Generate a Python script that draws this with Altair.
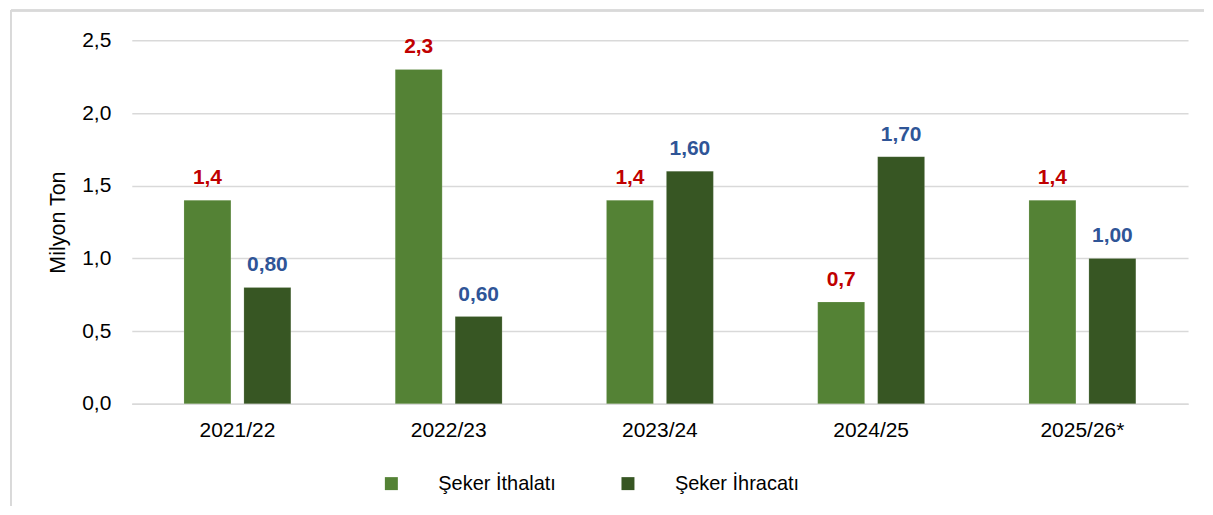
import altair as alt
import pandas as pd

years = ["2021/22", "2022/23", "2023/24", "2024/25", "2025/26*"]
series = ["Şeker İthalatı", "Şeker İhracatı"]
ithalat = [1.4, 2.3, 1.4, 0.7, 1.4]
ihracat = [0.80, 0.60, 1.60, 1.70, 1.00]
bar_colors = ["#548235", "#375623"]
label_colors = ["#C00000", "#2F5597"]

rows = []
for y, v in zip(years, ithalat):
    rows.append({"year": y, "series": series[0], "value": v,
                 "label": f"{v:.1f}".replace(".", ",")})
for y, v in zip(years, ihracat):
    rows.append({"year": y, "series": series[1], "value": v,
                 "label": f"{v:.2f}".replace(".", ",")})
df = pd.DataFrame(rows)

FN = "Liberation Sans Narrow, Arial Narrow, Liberation Sans, sans-serif"
FR = "Liberation Sans, Arial, sans-serif"

x_enc = alt.X("year:N", sort=years,
              scale=alt.Scale(paddingInner=0.494, paddingOuter=0.247),
              axis=alt.Axis(title=None, labelAngle=0, ticks=False, labelPadding=16,
                            labelFont=FN, labelFontSize=21, labelColor="#000000",
                            domainColor="#d9d9d9", domainWidth=1.5, grid=False))
xo_enc = alt.XOffset("series:N", sort=series,
                     scale=alt.Scale(domain=series, paddingInner=0.2167, paddingOuter=0))
y_enc = alt.Y("value:Q",
              scale=alt.Scale(domain=[0, 2.5], nice=False),
              axis=alt.Axis(title="Milyon Ton", values=[0, 0.5, 1.0, 1.5, 2.0, 2.5],
                            labelExpr="replace(format(datum.value, '.1f'), '.', ',')",
                            ticks=False, domain=False, labelPadding=21,
                            labelFont=FN, labelFontSize=21, labelColor="#000000",
                            titleFont=FR, titleFontSize=21.5, titleFontWeight="normal",
                            titleColor="#000000", titlePadding=12,
                            gridColor="#d9d9d9", gridWidth=1.5))

bars = alt.Chart(df).mark_bar(stroke="#ffffff", strokeWidth=0.5, strokeOpacity=0.3).encode(
    x=x_enc, xOffset=xo_enc, y=y_enc,
    color=alt.Color("series:N", sort=series,
                    scale=alt.Scale(domain=series, range=bar_colors),
                    legend=alt.Legend(title=None, orient="none", legendX=250, legendY=434,
                                      direction="horizontal", columns=2,
                                      symbolType="square", symbolSize=169,
                                      symbolStrokeWidth=0, labelOffset=37,
                                      columnPadding=62, labelFont=FN,
                                      labelFontSize=20, labelColor="#000000",
                                      labelLimit=300)),
)

def labels(i):
    return alt.Chart(df).transform_filter(
        alt.datum.series == series[i]
    ).mark_text(font=FN, fontSize=21, fontWeight="bold", color=label_colors[i],
                baseline="alphabetic", dy=-16).encode(
        x=alt.X("year:N", sort=years), xOffset=alt.XOffset("series:N", sort=series),
        y="value:Q", text="label:N")

top_border = alt.Chart(df).mark_rule(color="#d9d9d9", strokeWidth=1.5).encode(
    x=alt.value(-121), x2=alt.value(1074), y=alt.value(-30))
left_border = alt.Chart(df).mark_rule(color="#d9d9d9", strokeWidth=1.5).encode(
    x=alt.value(-121), y=alt.value(-30), y2=alt.value(466))

chart = alt.layer(top_border, left_border, bars, labels(0), labels(1)).properties(
    width=1058, height=364,
    padding={"left": 2, "top": 1, "right": 0, "bottom": 0},
).configure_view(stroke=None)

chart.save("out.html", embed_options={"renderer": "svg", "actions": False})
